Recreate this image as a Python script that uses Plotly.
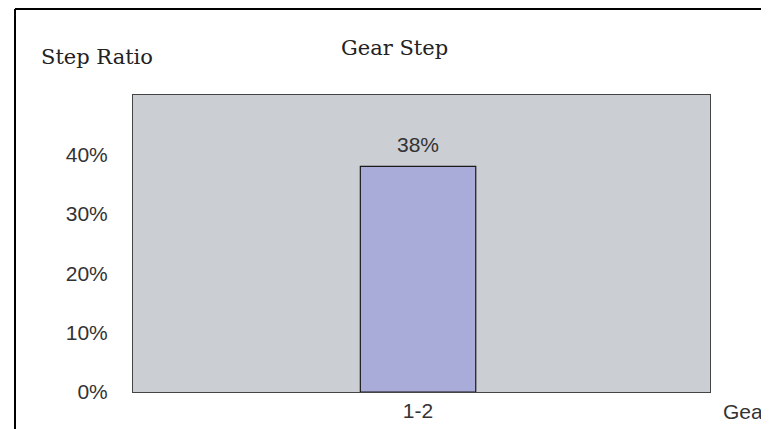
import plotly.graph_objects as go

gears = ["1-2"]
step_ratio = [0.38]
tick_vals = [0, 0.1, 0.2, 0.3, 0.4]
tick_text = ["0%", "10%", "20%", "30%", "40%"]

serif = "DejaVu Serif"
sans = "Liberation Sans"

fig = go.Figure(
    go.Bar(
        x=gears,
        y=step_ratio,
        width=0.2,
        marker=dict(color="#a9abd8", line=dict(color="#1a1a1a", width=1.2)),
    )
)

# value labels above the bars
for g, v in zip(gears, step_ratio):
    fig.add_annotation(x=g, y=v, text=f"{v:.0%}", showarrow=False,
                       yanchor="middle", yshift=22,
                       font=dict(family=sans, size=21, color="#333333"))

# the page body adds 8px, so the figure is 8px smaller than the window
fig.update_layout(
    width=761,
    height=421,
    margin=dict(l=125, r=59, t=87, b=37),
    paper_bgcolor="white",
    plot_bgcolor="#cbced3",
    showlegend=False,
    xaxis=dict(
        range=[-0.494, 0.506],
        automargin=False,
        showgrid=False,
        zeroline=False,
        ticks="",
        ticklabelstandoff=0,
        tickfont=dict(family=sans, size=21, color="#333333"),
        showline=True,
        linecolor="#444444",
        linewidth=1,
        mirror=True,
    ),
    yaxis=dict(
        range=[0, 0.5],
        automargin=False,
        tickvals=tick_vals,
        ticktext=tick_text,
        showgrid=False,
        zeroline=False,
        ticks="",
        ticklabelstandoff=20,
        tickfont=dict(family=sans, size=21, color="#333333"),
        showline=True,
        linecolor="#444444",
        linewidth=1,
        mirror=True,
    ),
)

fig.add_annotation(text="Gear Step", xref="paper", yref="paper", x=0.454, y=1.158,
                   xanchor="center", yanchor="middle", showarrow=False,
                   font=dict(family=serif, size=21, color="#222222"))
fig.add_annotation(text="Step Ratio", xref="paper", yref="paper", x=-0.163, y=1.129,
                   xanchor="left", yanchor="middle", showarrow=False,
                   font=dict(family=serif, size=21, color="#222222"))
fig.add_annotation(text="Gear", xref="paper", yref="paper", x=1.019, y=-0.064,
                   xanchor="left", yanchor="middle", showarrow=False,
                   font=dict(family=sans, size=21, color="#333333"))

# frame lines along the top and left edge
fig.add_shape(type="line", xref="paper", yref="paper", x0=-0.2045, x1=1.3,
              y0=1.2896, y1=1.2896, line=dict(color="black", width=2))
fig.add_shape(type="line", xref="paper", yref="paper", x0=-0.2045, x1=-0.2045,
              y0=1.2896, y1=-0.3, line=dict(color="black", width=2))

fig.write_html("out.html")
